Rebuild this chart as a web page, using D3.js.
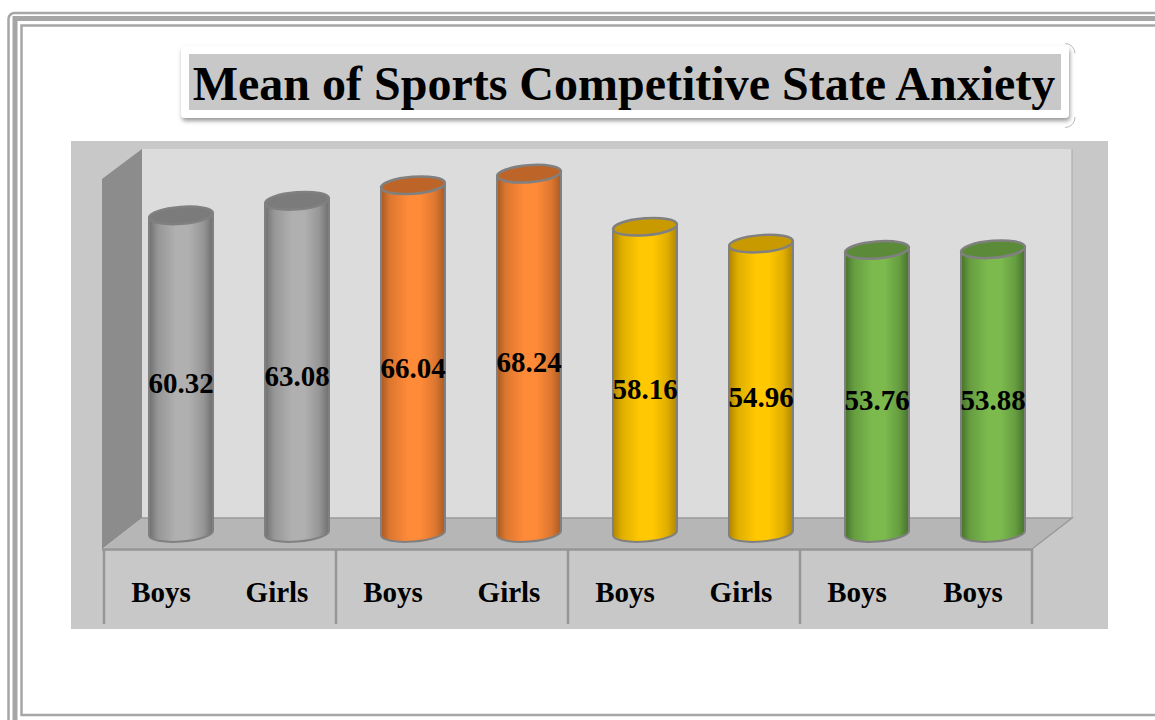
<!DOCTYPE html>
<html>
<head>
    <meta charset="utf-8">
    <title>Mean of Sports Competitive State Anxiety</title>
    <script src="https://d3js.org/d3.v7.min.js"></script>
    <style>
        html, body { margin: 0; padding: 0; background: #fff; overflow: hidden; }
        svg { display: block; }
        text { font-family: "Liberation Serif", serif; font-weight: bold; fill: #000; }
    </style>
</head>
<body>
    <div id="my_dataviz"></div>
    <script>
        const chartTitle = "Mean of Sports Competitive State Anxiety";
        const categories = ["Boys", "Girls", "Boys", "Girls", "Boys", "Girls", "Boys", "Boys"];
        const values = [60.32, 63.08, 66.04, 68.24, 58.16, 54.96, 53.76, 53.88];
        const groupIndex = [0, 0, 1, 1, 2, 2, 3, 3];
        // edge, middle, top cap
        const edgeColors = ["#6f6f6f", "#a85a24", "#b08600", "#46722b"];
        const midColors = ["#b0b0b0", "#ff8a38", "#ffc800", "#7cba4e"];
        const capColors = ["#7b7b7b", "#bd6428", "#c89a00", "#5b8a39"];

        const width = 1155, height = 720;

        const svg = d3.select("#my_dataviz")
          .append("svg")
            .attr("width", width)
            .attr("height", height);

        const defs = svg.append("defs");

        const shadow = defs.append("filter").attr("id", "shadow")
            .attr("x", "-5%").attr("y", "-20%").attr("width", "110%").attr("height", "140%");
        shadow.append("feDropShadow")
            .attr("dx", 1).attr("dy", 3).attr("stdDeviation", 2)
            .attr("flood-color", "#555").attr("flood-opacity", 0.6);

        edgeColors.forEach(function(c, i) {
            const mix = d3.interpolateRgb(c, midColors[i])(0.6);
            const g = defs.append("linearGradient").attr("id", "cyl" + i);
            g.append("stop").attr("offset", "0%").attr("stop-color", c);
            g.append("stop").attr("offset", "14%").attr("stop-color", mix);
            g.append("stop").attr("offset", "42%").attr("stop-color", midColors[i]);
            g.append("stop").attr("offset", "62%").attr("stop-color", midColors[i]);
            g.append("stop").attr("offset", "85%").attr("stop-color", mix);
            g.append("stop").attr("offset", "100%").attr("stop-color", c);
        });

        // page frame, runs off the right edge
        const frame = svg.append("g").attr("fill", "none").attr("stroke", "#a6a6a6");
        frame.append("rect").attr("x", 8.5).attr("y", 13).attr("width", 1200).attr("height", 760)
            .attr("rx", 6).attr("stroke-width", 2.5);
        frame.append("rect").attr("x", 15).attr("y", 18.5).attr("width", 1200).attr("height", 760)
            .attr("stroke-width", 5);
        frame.append("rect").attr("x", 21.5).attr("y", 25.5).attr("width", 1200).attr("height", 689.5)
            .attr("stroke-width", 2.5);

        // title box
        svg.append("rect")
            .attr("x", 181).attr("y", 46).attr("width", 888).attr("height", 72).attr("rx", 4)
            .attr("fill", "#fff").attr("filter", "url(#shadow)");
        svg.append("rect")
            .attr("x", 189).attr("y", 54).attr("width", 872).attr("height", 56)
            .attr("fill", "#c8c8c8");
        svg.append("path")
            .attr("d", "M1065,43.5 A10,10 0 0 1 1075,53.5 M1075,117 A10,10 0 0 1 1065,127.5")
            .attr("fill", "none").attr("stroke", "#bbb").attr("stroke-width", 1);
        svg.append("text")
            .attr("x", 624).attr("y", 100)
            .attr("text-anchor", "middle")
            .attr("font-size", 48)
            .text(chartTitle);

        // chart area
        svg.append("rect").attr("x", 71).attr("y", 141).attr("width", 1037).attr("height", 488)
            .attr("fill", "#c8c8c8");
        svg.append("rect").attr("x", 142).attr("y", 149).attr("width", 930).attr("height", 369)
            .attr("fill", "#dcdcdc");
        svg.append("path").attr("d", "M1072,149 V518").attr("stroke", "#a8a8a8").attr("stroke-width", 1);
        svg.append("path").attr("d", "M102,179 L142,149 V518 L102,549 Z").attr("fill", "#8c8c8c");
        svg.append("path").attr("d", "M103,549 L142,518 H1072 L1032,549 Z")
            .attr("fill", "#b6b6b6");
        svg.append("path").attr("d", "M142,518 H1072 L1032,549")
            .attr("fill", "none").attr("stroke", "#9a9a9a").attr("stroke-width", 1.5);

        const x = d3.scaleBand()
            .domain(d3.range(categories.length))
            .range([104, 1032])
            .padding(0);
        const y = d3.scaleLinear()
            .domain([0, 70])
            .range([533, 164.4]);

        // bars sit further back than the category row
        const depth = 19, rx = 32, ry = 8.5, tilt = 2.5;
        const barX = function(i) { return x(i) + x.bandwidth() / 2 + depth; };

        const bars = svg.append("g").selectAll("g")
            .data(values)
            .join("g");

        bars.append("path")
            .attr("fill", function(d, i) { return "url(#cyl" + groupIndex[i] + ")"; })
            .attr("stroke", "#808080")
            .attr("stroke-width", 2)
            .attr("d", function(d, i) {
                const c = barX(i), top = y(d), bot = y(0);
                return "M" + (c - rx) + "," + (top + tilt) +
                    " L" + (c - rx) + "," + (bot + tilt) +
                    " A" + rx + "," + ry + " -4.5 0 0 " + (c + rx) + "," + (bot - tilt) +
                    " L" + (c + rx) + "," + (top - tilt) + " Z";
            });

        bars.append("ellipse")
            .attr("cx", function(d, i) { return barX(i); })
            .attr("cy", function(d) { return y(d); })
            .attr("rx", rx)
            .attr("ry", ry)
            .attr("transform", function(d, i) { return "rotate(-4.5 " + barX(i) + " " + y(d) + ")"; })
            .attr("fill", function(d, i) { return capColors[groupIndex[i]]; })
            .attr("stroke", "#808080")
            .attr("stroke-width", 2.5);

        bars.append("text")
            .attr("x", function(d, i) { return barX(i); })
            .attr("y", function(d) { return (y(d) + y(0)) / 2 + 19; })
            .attr("text-anchor", "middle")
            .attr("font-size", 29)
            .text(function(d) { return d.toFixed(2); });

        // category row
        const axis = d3.axisBottom(x)
            .tickSize(0)
            .tickPadding(32)
            .tickFormat(function(i) { return categories[i]; });
        const axisG = svg.append("g")
            .attr("transform", "translate(-1,549.5)")
            .call(axis);
        axisG.select(".domain").remove();
        axisG.selectAll("text")
            .attr("font-size", 29)
            .attr("font-family", null)
            .attr("fill", null);

        // separators between the groups
        const groupStarts = d3.range(0, categories.length + 1, 2);
        const sepX = function(i) { return i < categories.length ? x(i) : x.range()[1]; };
        svg.append("g").selectAll("line")
            .data(groupStarts)
            .join("line")
            .attr("x1", sepX).attr("x2", sepX)
            .attr("y1", 549).attr("y2", 624)
            .attr("stroke", "#969696").attr("stroke-width", 2.5);
        svg.append("line")
            .attr("x1", 102).attr("x2", 1033)
            .attr("y1", 549.5).attr("y2", 549.5)
            .attr("stroke", "#969696").attr("stroke-width", 2.5);
    </script>
</body>
</html>
